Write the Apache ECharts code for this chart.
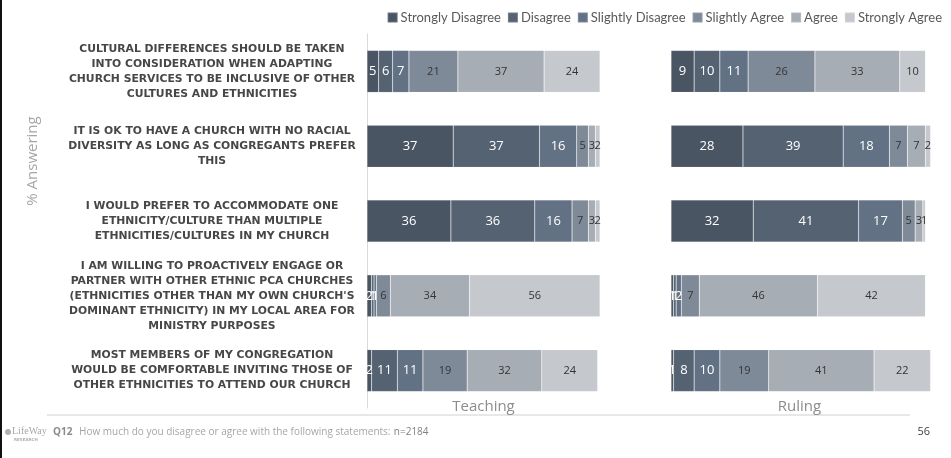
<!DOCTYPE html>
<html>
<head>
<meta charset="utf-8">
<title>Q12</title>
<script src="https://cdn.jsdelivr.net/npm/echarts@6/dist/echarts.min.js"></script>
<style>
  html, body { margin: 0; padding: 0; background: #fff; }
  #chart { width: 951px; height: 458px; }
</style>
</head>
<body>
<div id="chart"></div>
<script>
var categories = [
    'CULTURAL DIFFERENCES SHOULD BE TAKEN\nINTO CONSIDERATION WHEN ADAPTING\nCHURCH SERVICES TO BE INCLUSIVE OF OTHER\nCULTURES AND ETHNICITIES',
    'IT IS OK TO HAVE A CHURCH WITH NO RACIAL\nDIVERSITY AS LONG AS CONGREGANTS PREFER\nTHIS',
    'I WOULD PREFER TO ACCOMMODATE ONE\nETHNICITY/CULTURE THAN MULTIPLE\nETHNICITIES/CULTURES IN MY CHURCH',
    'I AM WILLING TO PROACTIVELY ENGAGE OR\nPARTNER WITH OTHER ETHNIC PCA CHURCHES\n(ETHNICITIES OTHER THAN MY OWN CHURCH\'S\nDOMINANT ETHNICITY) IN MY LOCAL AREA FOR\nMINISTRY PURPOSES',
    'MOST MEMBERS OF MY CONGREGATION\nWOULD BE COMFORTABLE INVITING THOSE OF\nOTHER ETHNICITIES TO ATTEND OUR CHURCH'
];
var answers = ['Strongly Disagree', 'Disagree', 'Slightly Disagree', 'Slightly Agree', 'Agree', 'Strongly Agree'];
var panels = ['Teaching', 'Ruling'];

// one array per answer, one value per statement
var teachingStronglyDisagree = [5, 37, 36, 2, 2];
var teachingDisagree         = [6, 37, 36, 1, 11];
var teachingSlightlyDisagree = [7, 16, 16, 1, 11];
var teachingSlightlyAgree    = [21, 5, 7, 6, 19];
var teachingAgree            = [37, 3, 3, 34, 32];
var teachingStronglyAgree    = [24, 2, 2, 56, 24];

var rulingStronglyDisagree = [9, 28, 32, 1, 1];
var rulingDisagree         = [10, 39, 41, 1, 8];
var rulingSlightlyDisagree = [11, 18, 17, 2, 10];
var rulingSlightlyAgree    = [26, 7, 5, 7, 19];
var rulingAgree            = [33, 7, 3, 46, 41];
var rulingStronglyAgree    = [10, 2, 1, 42, 22];

var teachingData = [teachingStronglyDisagree, teachingDisagree, teachingSlightlyDisagree,
    teachingSlightlyAgree, teachingAgree, teachingStronglyAgree];
var rulingData = [rulingStronglyDisagree, rulingDisagree, rulingSlightlyDisagree,
    rulingSlightlyAgree, rulingAgree, rulingStronglyAgree];

var colors = ['#4a5563', '#556272', '#627184', '#7f8a98', '#a7adb5', '#c5c8cd'];
var labelColors = ['#fff', '#fff', '#fff', '#333', '#333', '#333'];

var myChart = echarts.init(document.getElementById('chart'));

function makeSeries(data, idx, stack) {
    return data.map(function(vals, i) {
        return {
            name: answers[i],
            type: 'bar',
            stack: stack,
            xAxisIndex: idx,
            yAxisIndex: idx,
            barWidth: 42,
            clip: false,
            itemStyle: { color: colors[i], borderColor: 'rgba(255,255,255,0.18)', borderWidth: 0.6 },
            label: {
                show: true,
                position: 'inside',
                color: labelColors[i],
                fontFamily: 'Open Sans',
                fontSize: i < 3 ? 13 : 11
            },
            data: vals
        };
    });
}

function xAxisFor(idx) {
    return {
        type: 'value',
        gridIndex: idx,
        min: 0,
        max: 100,
        name: panels[idx],
        nameLocation: 'middle',
        nameGap: -9,
        nameTextStyle: { color: '#8c8c8c', fontSize: 15, fontFamily: 'Open Sans' },
        axisLine: { show: false },
        axisTick: { show: false },
        axisLabel: { show: false },
        splitLine: { show: false }
    };
}

var option = {
    animation: false,
    color: colors,
    legend: {
        data: answers,
        right: 4,
        top: 6,
        icon: 'rect',
        itemWidth: 10,
        itemHeight: 10,
        itemGap: 6,
        textStyle: { color: '#595959', fontSize: 13, fontFamily: 'Lato', padding: [0, 0, 0, -2] }
    },
    grid: [
        { left: 367, top: 34, width: 233, height: 374 },
        { left: 671, top: 34, width: 257, height: 374 }
    ],
    xAxis: [xAxisFor(0), xAxisFor(1)],
    yAxis: [
        {
            type: 'category',
            gridIndex: 0,
            inverse: true,
            data: categories,
            axisLine: { show: true, lineStyle: { color: '#d9d9d9' } },
            axisTick: { show: false },
            axisLabel: {
                align: 'center',
                margin: 155,
                color: '#474747',
                fontWeight: 'bold',
                fontFamily: 'DejaVu Sans',
                fontSize: 10.8,
                lineHeight: 15
            }
        },
        {
            type: 'category',
            gridIndex: 1,
            inverse: true,
            data: categories,
            axisLine: { show: false },
            axisTick: { show: false },
            axisLabel: { show: false }
        }
    ],
    graphic: [
        { type: 'rect', shape: { x: 0, y: 0, width: 2, height: 458 }, style: { fill: '#111' } },
        {
            type: 'text', x: 33, y: 161, rotation: Math.PI / 2,
            style: { text: '% Answering', fill: '#a6a6a6', fontSize: 15, fontFamily: 'Open Sans',
                align: 'center', verticalAlign: 'middle' }
        },
        { type: 'line', shape: { x1: 47, y1: 415, x2: 910, y2: 415 }, style: { stroke: '#d0d0c8', lineWidth: 1 } },
        {
            type: 'text', x: 53, y: 432,
            style: {
                text: '{q|Q12}  {t|How much do you disagree or agree with the following statements:} {n|n=2184}',
                verticalAlign: 'middle',
                rich: {
                    q: { fill: '#8c8c8c', fontSize: 10, fontWeight: 'bold', fontFamily: 'Open Sans' },
                    t: { fill: '#a6a6a6', fontSize: 10, fontFamily: 'Open Sans' },
                    n: { fill: '#808080', fontSize: 10, fontFamily: 'Open Sans' }
                }
            }
        },
        {
            type: 'text', x: 930, y: 432,
            style: { text: '56', fill: '#404040', fontSize: 11, fontFamily: 'Open Sans', align: 'right', verticalAlign: 'middle' }
        },
        // logo
        { type: 'circle', shape: { cx: 8, cy: 432, r: 3 }, style: { fill: '#b0b0b0' } },
        {
            type: 'text', x: 12, y: 431,
            style: { text: 'LifeWay', fill: '#a8a8a8', fontSize: 10, fontFamily: 'Liberation Serif', verticalAlign: 'middle' }
        },
        {
            type: 'text', x: 14, y: 440,
            style: { text: 'RESEARCH', fill: '#b0b0b0', fontSize: 4, fontFamily: 'DejaVu Sans', fontWeight: 'bold', verticalAlign: 'middle' }
        }
    ],
    series: makeSeries(teachingData, 0, 'teaching').concat(makeSeries(rulingData, 1, 'ruling'))
};

myChart.setOption(option);
</script>
</body>
</html>
